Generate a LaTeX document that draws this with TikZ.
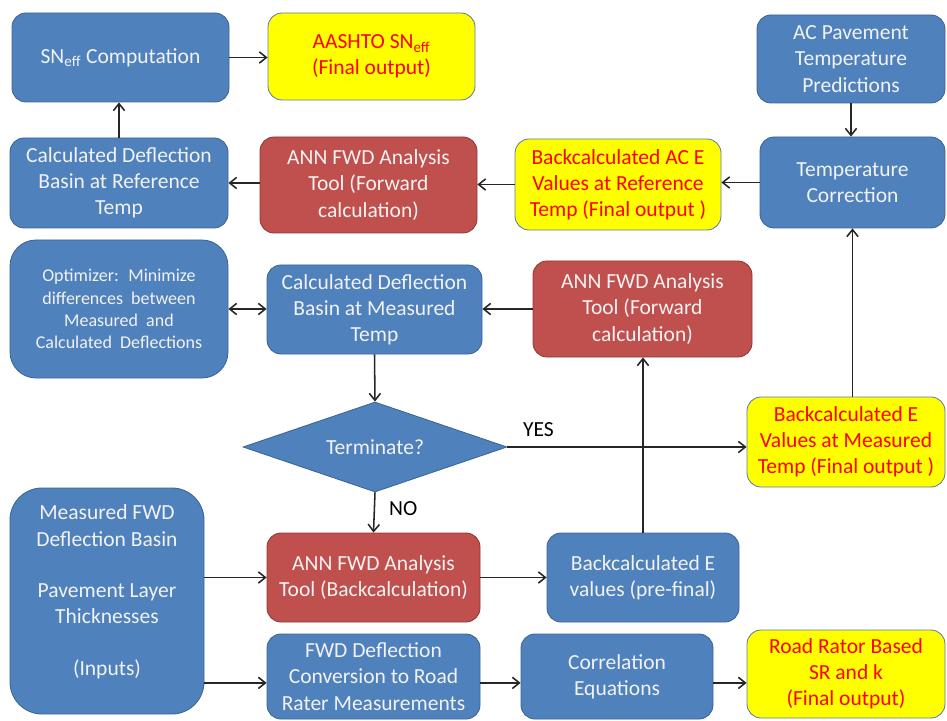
\documentclass[tikz,border=0pt]{standalone}
\usepackage{fontspec}
\setmainfont{Carlito}
\usetikzlibrary{shapes.geometric,arrows.meta}
\definecolor{boxblue}{HTML}{4F81BD}
\definecolor{boxblueline}{HTML}{3A6593}
\definecolor{boxred}{HTML}{C0504D}
\definecolor{boxredline}{HTML}{8C3836}
\definecolor{outyellow}{HTML}{FFFF00}
\definecolor{outyellowline}{HTML}{5A7DA3}
\definecolor{outred}{HTML}{FF0000}
\definecolor{linkgray}{HTML}{262626}
\begin{document}
\begin{tikzpicture}[x=0.025cm,y=-0.025cm,>={Straight Barb[length=5pt,width=8pt]},
    every node/.style={font=\fontsize{15.3}{18.6}\selectfont,align=center,inner sep=0pt},
    boxsize/.style 2 args={minimum width=#1*0.025cm,minimum height=#2*0.025cm},
    bluebox/.style 2 args={boxsize={#1}{#2},rectangle,rounded corners=0.35cm,fill=boxblue,draw=boxblueline,line width=0.6pt,text=white!95!black},
    redbox/.style 2 args={boxsize={#1}{#2},rectangle,rounded corners=0.35cm,fill=boxred,draw=boxredline,line width=0.6pt,text=white!95!black},
    outbox/.style 2 args={boxsize={#1}{#2},rectangle,rounded corners=0.35cm,fill=outyellow,draw=outyellowline,line width=0.6pt,text=outred},
    link/.style={line width=1.1pt,draw=linkgray,->}]
    \useasboundingbox (0,0) rectangle (947,721);
    \node[bluebox={217}{89}] (sneff) at (120.5,57.5) {SN\textsubscript{eff} Computation};
    \node[outbox={207}{87}] (aashto) at (371.5,56.5) {AASHTO SN\textsubscript{eff}\\(Final output)};
    \node[bluebox={188}{88}] (acpav) at (851,59) {AC Pavement\\Temperature\\Predictions};
    \node[bluebox={218}{90}] (calcref) at (119,183) {Calculated Deflection\\Basin at Reference\\Temp};
    \node[redbox={217}{96}] (annfwdtop) at (368.5,185) {ANN FWD Analysis\\Tool (Forward\\calculation)};
    \node[outbox={206}{91}] (acevals) at (618,184.5) {Backcalculated AC E\\Values at Reference\\Temp (Final output )};
    \node[bluebox={185}{91}] (tcorr) at (852.5,182.5) {Temperature\\Correction};
    \node[bluebox={218}{138},rounded corners=0.65cm,font=\fontsize{12.8}{15.8}\selectfont] (optim) at (119,309)
        {Optimizer:~ Minimize\\differences~ between\\Measured~ and\\Calculated~ Deflections};
    \node[bluebox={215}{89}] (calcmeas) at (374.5,309.5) {Calculated Deflection\\Basin at Measured\\Temp};
    \node[redbox={219}{96}] (annfwdmid) at (642.5,309) {ANN FWD Analysis\\Tool (Forward\\calculation)};
    \node[diamond,aspect=2.93,boxsize={264}{90},fill=boxblue,draw=boxblueline,line width=0.6pt,text=white!95!black] (term) at (375,447) {Terminate?};
    \node[outbox={198}{90}] (emeas) at (846,442) {Backcalculated E\\Values at Measured\\Temp (Final output )};
    \node[bluebox={194}{226},rounded corners=0.8cm] (inputs) at (107,601) {Measured FWD\\Deflection Basin\\[18pt]Pavement Layer\\Thicknesses\\[18pt](Inputs)\\[-3pt]\mbox{}};
    \node[redbox={213}{89}] (annback) at (373.5,577.5) {ANN FWD Analysis\\Tool (Backcalculation)};
    \node[bluebox={192}{89}] (eprefinal) at (643,577.5) {Backcalculated E\\values (pre-final)};
    \node[bluebox={213}{85}] (fwdconv) at (373.5,676.5) {FWD Deflection\\Conversion to Road\\Rater Measurements};
    \node[bluebox={192}{85}] (correl) at (617,676.5) {Correlation\\Equations};
    \node[outbox={198}{88}] (roadrator) at (846,674) {Road Rator Based\\SR and k\\(Final output)};
    \coordinate (lowrow) at ([yshift=-0.16cm]fwdconv.west);
    \draw[link] (calcref.north) -- (calcref.north |- sneff.south);
    \draw[link] (sneff.east) -- (sneff.east -| aashto.west);
    \draw[link] (acpav.south) -- (acpav.south |- tcorr.north);
    \draw[link] (tcorr.west) -- (tcorr.west -| acevals.east);
    \draw[link] (acevals.west) -- (acevals.west -| annfwdtop.east);
    \draw[link] (annfwdtop.west |- calcref.east) -- (calcref.east);
    \draw[link,<->] (optim.east) -- (optim.east -| calcmeas.west);
    \draw[link] (annfwdmid.west) -- (annfwdmid.west -| calcmeas.east);
    \draw[link] (calcmeas.south) -- (term.north);
    \draw[link] (term.east) -- (term.east -| emeas.west) node[pos=0.13,above=7pt] (yes) {YES};
    \draw[link] (term.south) -- (annback.north) node[pos=0.4,right=10pt] (no) {NO};
    \draw[link] (tcorr.south |- emeas.north) -- (tcorr.south);
    \draw[link] (eprefinal.north) -- (eprefinal.north |- annfwdmid.south);
    \draw[link] (inputs.east |- annback.west) -- (annback.west);
    \draw[link] (annback.east) -- (annback.east -| eprefinal.west);
    \draw[link] (inputs.east |- lowrow) -- (lowrow);
    \draw[link] (fwdconv.east |- lowrow) -- (correl.west |- lowrow);
    \draw[link] (correl.east |- lowrow) -- (roadrator.west |- lowrow);
\end{tikzpicture}
\end{document}
